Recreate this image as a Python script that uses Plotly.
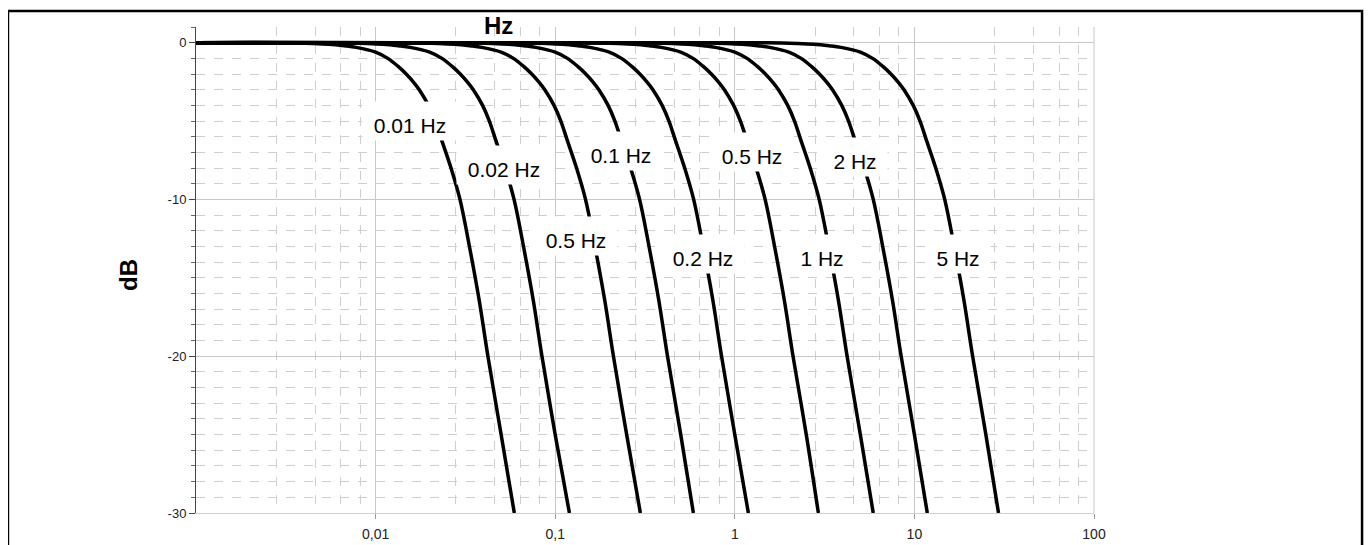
import plotly.graph_objects as go

# ---- data (dB levels shared by every curve) ----
DB_LEVELS = [0, 0, -0.05, -0.1, -0.2, -0.3, -0.6, -1, -1.5, -2, -2.5, -3, -4, -5,
             -6.2, -8, -10, -13, -16.4, -20, -25, -30]

FREQ_0_01 = [0.001, 0.003, 0.0045, 0.0055, 0.0067, 0.0078, 0.01, 0.0117, 0.0133, 0.0148, 0.0162,
             0.0175, 0.0197, 0.0215, 0.0233, 0.0263, 0.0295, 0.0333, 0.0377, 0.0422, 0.05, 0.0592]
FREQ_0_02 = [0.001, 0.006, 0.009, 0.011, 0.0134, 0.0156, 0.02, 0.0234, 0.0266, 0.0296, 0.0324,
             0.035, 0.0394, 0.043, 0.0466, 0.0526, 0.059, 0.0666, 0.0754, 0.0844, 0.1, 0.12]
FREQ_0_05 = [0.001, 0.015, 0.0225, 0.0275, 0.0335, 0.039, 0.05, 0.0585, 0.0665, 0.074, 0.081,
             0.0875, 0.0985, 0.1075, 0.1165, 0.1315, 0.1475, 0.1665, 0.1885, 0.211, 0.25, 0.298]
FREQ_0_1 = [0.001, 0.03, 0.045, 0.055, 0.067, 0.078, 0.1, 0.117, 0.133, 0.148, 0.162,
            0.175, 0.197, 0.215, 0.233, 0.263, 0.295, 0.333, 0.377, 0.422, 0.5, 0.588]
FREQ_0_2 = [0.001, 0.06, 0.09, 0.11, 0.134, 0.156, 0.2, 0.234, 0.266, 0.296, 0.324,
            0.35, 0.394, 0.43, 0.466, 0.526, 0.59, 0.666, 0.754, 0.844, 1.0, 1.19]
FREQ_0_5 = [0.001, 0.15, 0.225, 0.275, 0.335, 0.39, 0.5, 0.585, 0.665, 0.74, 0.81,
            0.875, 0.985, 1.075, 1.165, 1.315, 1.475, 1.665, 1.885, 2.11, 2.5, 2.92]
FREQ_1 = [0.001, 0.3, 0.45, 0.55, 0.67, 0.78, 1.0, 1.17, 1.33, 1.48, 1.62,
          1.75, 1.97, 2.15, 2.33, 2.63, 2.95, 3.33, 3.77, 4.22, 5.0, 5.9]
FREQ_2 = [0.001, 0.6, 0.9, 1.1, 1.34, 1.56, 2.0, 2.34, 2.66, 2.96, 3.24,
          3.5, 3.94, 4.3, 4.66, 5.26, 5.9, 6.66, 7.54, 8.44, 10.0, 11.8]
FREQ_5 = [0.001, 1.5, 2.25, 2.75, 3.35, 3.9, 5.0, 5.85, 6.65, 7.4, 8.1,
          8.75, 9.85, 10.75, 11.65, 13.15, 14.75, 16.65, 18.85, 21.1, 25.0, 29.4]

CURVE_FREQS = [FREQ_0_01, FREQ_0_02, FREQ_0_05, FREQ_0_1, FREQ_0_2, FREQ_0_5, FREQ_1, FREQ_2, FREQ_5]
CURVE_LABELS = ["0.01 Hz", "0.02 Hz", "0.5 Hz", "0.1 Hz", "0.2 Hz", "0.5 Hz", "1 Hz", "2 Hz", "5 Hz"]

X_TICK_VALS = [0.01, 0.1, 1, 10, 100]
X_TICK_TEXT = ["0,01", "0,1", "1", "10", "100"]
Y_TICK_VALS = [-30, -20, -10, 0]
Y_TICK_TEXT = ["-30", "-20", "-10", "0"]

# ---- layout helpers (positions / styles) ----
LABEL_LOGX = [-1.808, -1.287, -0.883, -0.632, -0.175, 0.097, 0.487, 0.671, 1.24]
LABEL_Y = [-5.0, -7.8, -12.35, -6.9, -13.45, -7.0, -13.45, -7.3, -13.45]
LABEL_W = [88, 88, 76, 76, 76, 76, 58, 58, 58]

MINOR_STEPS = [2.8, 4.6, 6.4, 8.2]
minor_x = [m * 10 ** d for d in range(-3, 2) for m in MINOR_STEPS]

FONT = "Liberation Sans, Arial, Helvetica, sans-serif"

fig = go.Figure()
for freqs, name in zip(CURVE_FREQS, CURVE_LABELS):
    fig.add_trace(go.Scatter(
        x=freqs, y=DB_LEVELS, mode="lines", name=name,
        line=dict(color="black", width=3.5, shape="spline", smoothing=1.0),
        showlegend=False, hoverinfo="skip", cliponaxis=True,
    ))

for lx, ly, w, txt in zip(LABEL_LOGX, LABEL_Y, LABEL_W, CURVE_LABELS):
    fig.add_annotation(
        x=lx, y=ly, xref="x", yref="y", text=txt, showarrow=False,
        font=dict(family=FONT, size=21, color="black"),
        bgcolor="white", width=w, height=32, borderpad=3,
        valign="bottom", align="center", xanchor="center", yanchor="middle",
    )

# titles
fig.add_annotation(x=0.3374, y=1.003, xref="paper", yref="paper", text="<b>Hz</b>",
                   showarrow=False, font=dict(family=FONT, size=24, color="black"),
                   xanchor="center", yanchor="middle")
fig.add_annotation(x=-0.0757, y=0.4897, xref="paper", yref="paper", text="<b>dB</b>",
                   showarrow=False, textangle=-90,
                   font=dict(family=FONT, size=24, color="black"),
                   xanchor="center", yanchor="middle")

# outer frame (bottom edge lies below the visible page)
fig.add_shape(type="rect", xref="paper", yref="paper",
              x0=-0.2094, x1=1.2985, y0=1.0329, y1=-0.2,
              line=dict(color="black", width=2.5), fillcolor="rgba(0,0,0,0)", layer="above")

fig.update_xaxes(
    type="log", range=[-3, 2], automargin=False,
    tickmode="array", tickvals=X_TICK_VALS, ticktext=X_TICK_TEXT,
    ticks="outside", ticklen=5, tickcolor="#999", ticklabelstandoff=3,
    tickfont=dict(family=FONT, size=14, color="#222"),
    showgrid=True, gridcolor="#c8c8c8", gridwidth=1,
    showline=True, linecolor="#d0d0d0", linewidth=1, mirror=False,
    zeroline=False,
    minor=dict(tickmode="array", tickvals=minor_x, showgrid=True,
               gridcolor="#cfcfcf", griddash="dash", gridwidth=1, ticks=""),
)
fig.update_yaxes(
    range=[-30, 1], automargin=False,
    tickmode="array", tickvals=Y_TICK_VALS, ticktext=Y_TICK_TEXT,
    ticks="outside", ticklen=6, tickcolor="#444",
    tickfont=dict(family=FONT, size=13, color="#222"),
    showgrid=True, gridcolor="#c8c8c8", gridwidth=1,
    showline=True, linecolor="#444", linewidth=1,
    zeroline=False,
    minor=dict(dtick=1, tick0=0, showgrid=True, gridcolor="#cfcfcf",
               griddash="dash", gridwidth=1, ticks="outside", ticklen=4, tickcolor="#666"),
)

# right edge line at 100 Hz (light gray) as in reference
fig.add_shape(type="line", xref="paper", yref="paper", x0=1, x1=1, y0=0, y1=1,
              line=dict(color="#c8c8c8", width=1), layer="below")

# the page body adds an 8px margin, so the figure is 8px smaller on each side
fig.update_layout(
    width=1364, height=537,
    margin=dict(l=188, r=278, t=19, b=32, autoexpand=False),
    paper_bgcolor="white", plot_bgcolor="white",
    font=dict(family=FONT),
)

fig.write_html("out.html")
